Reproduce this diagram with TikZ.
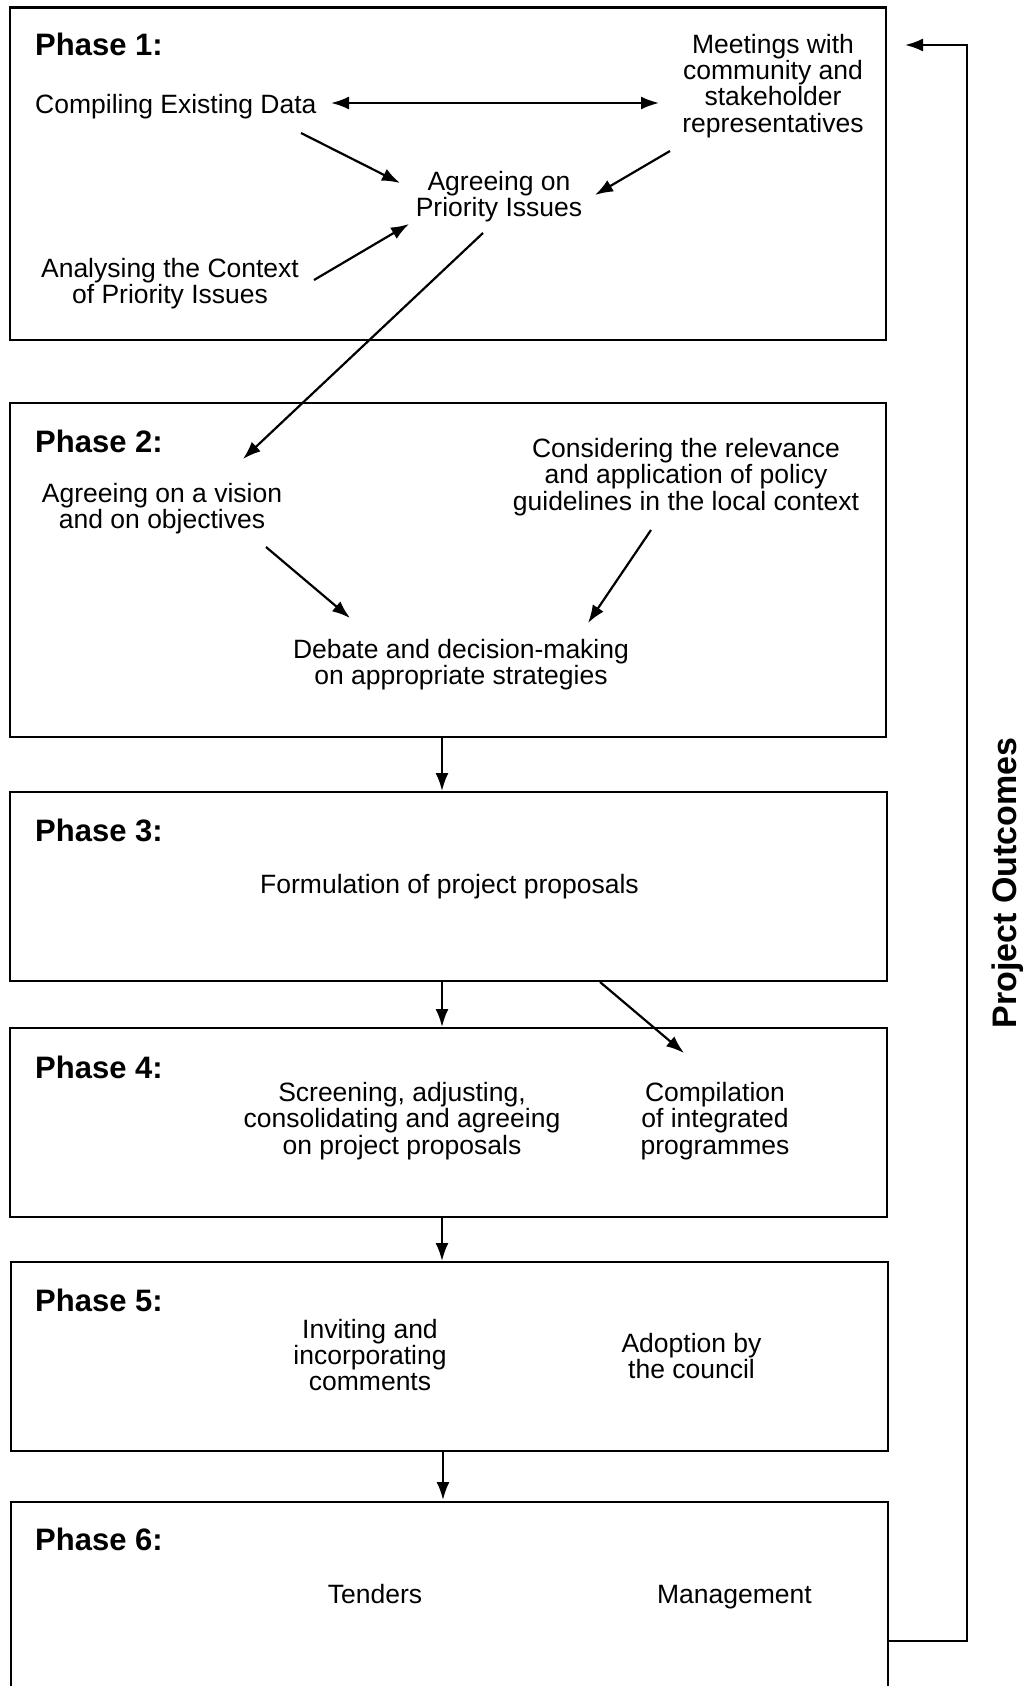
\documentclass[tikz,border=0pt]{standalone}
\usepackage{fontspec}
\setmainfont{Liberation Sans}
\usetikzlibrary{arrows.meta,calc}
\begin{document}
\begin{tikzpicture}[x=1pt,y=-1pt,
  phasebox/.style={draw,line width=2.5pt,rectangle,inner sep=0pt},
  txt/.style={align=center,inner sep=0pt,font=\fontsize{26.5}{26.2}\selectfont},
  phaselbl/.style={anchor=west,inner sep=0pt,font=\fontsize{31}{32}\selectfont\bfseries},
  arr/.style={line width=2.2pt,-{Latex[length=18pt,width=13pt]}},
  darr/.style={line width=2.2pt,{Latex[length=18pt,width=13pt]}-{Latex[length=18pt,width=13pt]}}
]
\useasboundingbox (0,0) rectangle (1026,1686);
\fill[white] (0,0) rectangle (1026,1686);
\clip (0,0) rectangle (1026,1686);

% phase boxes
\draw[phasebox] (10,7.5) rectangle (886,340);
\draw[phasebox] (10,403) rectangle (886,737);
\draw[phasebox] (10,792) rectangle (887,981);
\draw[phasebox] (10,1028) rectangle (887,1217);
\draw[phasebox] (11,1262) rectangle (888,1451);
\draw[phasebox] (11,1720) |- (888,1502) -- (888,1720);

% labels
\node[phaselbl] (ph1) at (35,44) {Phase 1:};
\node[phaselbl] (ph2) at (35,441) {Phase 2:};
\node[phaselbl] (ph3) at (35,830) {Phase 3:};
\node[phaselbl] (ph4) at (35,1067) {Phase 4:};
\node[phaselbl] (ph5) at (35,1300) {Phase 5:};
\node[phaselbl] (ph6) at (35,1539) {Phase 6:};

% phase 1
\node[txt,anchor=west] (cd) at (35,107) {Compiling Existing Data};
\node[txt] (mt) at (773,86) {Meetings with\\community and\\stakeholder\\representatives};
\node[txt] (ag) at (499,197) {Agreeing on\\Priority Issues};
\node[txt] (an) at (170,284) {Analysing the Context\\of Priority Issues};

% phase 2
\node[txt] (vi) at (162,509) {Agreeing on a vision\\and on objectives};
\node[txt] (co) at (686,477) {Considering the relevance\\and application of policy\\guidelines in the local context};
\node[txt] (de) at (461,665) {Debate and decision-making\\on appropriate strategies};

% phase 3
\node[txt] (fo) at (449.5,887) {Formulation of project proposals};

% phase 4
\node[txt] (sc) at (402,1121) {Screening, adjusting,\\consolidating and agreeing\\on project proposals};
\node[txt] (cp) at (715,1121) {Compilation\\of integrated\\programmes};

% phase 5
\node[txt] (in) at (370,1355) {Inviting and\\incorporating\\comments};
\node[txt] (ad) at (691.5,1356) {Adoption by\\the council};

% phase 6
\node[txt] (te) at (375,1594) {Tenders};
\node[txt] (ma) at (734.5,1597) {Management};

% project outcomes
\node[rotate=90,inner sep=0pt,font=\fontsize{34}{36}\selectfont\bfseries] (po) at (1008,883) {Project Outcomes};

% arrow end points
\coordinate (cdR) at (331,103);
\coordinate (mtL) at (659,103);
\coordinate (cdA) at (301,133);
\coordinate (agA) at (400,183);
\coordinate (mtA) at (670,151);
\coordinate (agB) at (595,195);
\coordinate (anA) at (314,280);
\coordinate (agC) at (409,224);
\coordinate (agD) at (483,233);
\coordinate (viA) at (243,459);
\coordinate (viB) at (266,547);
\coordinate (deA) at (350,618);
\coordinate (coA) at (651,530);
\coordinate (deB) at (588,623);
\coordinate (foA) at (600,982);
\coordinate (cpA) at (684,1053);
\coordinate (fbB) at (888,1641);
\coordinate (fbC) at (967,45);
\coordinate (fbT) at (905,45);

\draw[darr] (cdR) -- (mtL);
\draw[arr] (cdA) -- (agA);
\draw[arr] (mtA) -- (agB);
\draw[arr] (anA) -- (agC);
\draw[arr] (agD) -- (viA);
\draw[arr] (viB) -- (deA);
\draw[arr] (coA) -- (deB);
\draw[arr] (442,737) -- (442,791);
\draw[arr] (442,981) -- (442,1027);
\draw[arr] (foA) -- (cpA);
\draw[arr] (442,1217) -- (442,1261);
\draw[arr] (443,1451) -- (443,1500);
\draw[arr] (fbB) -| (fbC) -- (fbT);
\end{tikzpicture}
\end{document}
